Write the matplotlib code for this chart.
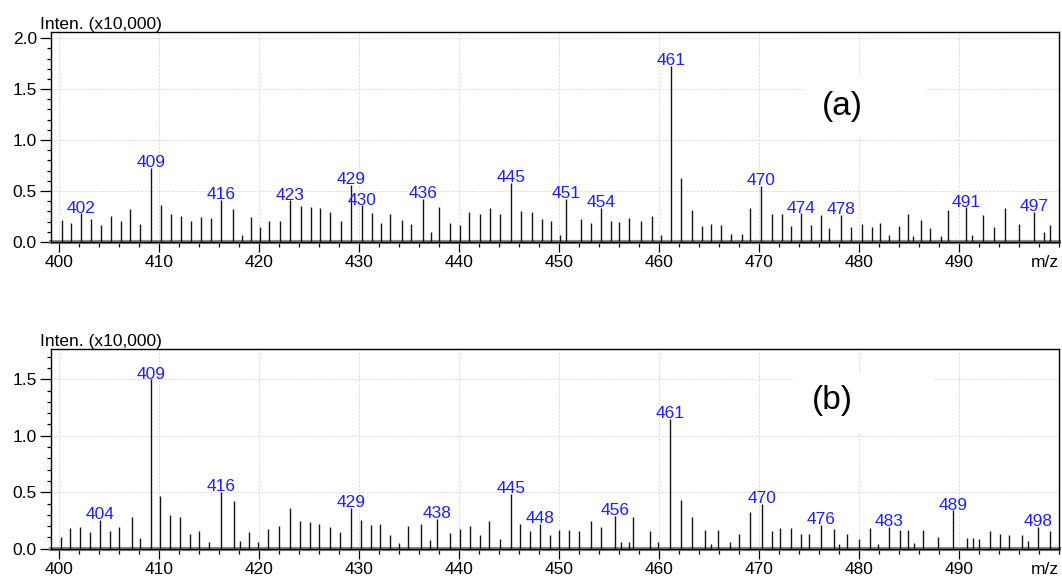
import matplotlib
matplotlib.use('Agg')
import matplotlib.pyplot as plt
from matplotlib.patches import Rectangle
from matplotlib.ticker import MultipleLocator
import numpy as np

plt.rcParams['font.family'] = ['Liberation Sans', 'DejaVu Sans']

# spectrum (a)
a_mz = [400.3, 401.2, 402.2, 403.2, 404.2, 405.2, 406.2, 407.1, 408.1, 409.2,
        410.2, 411.2, 412.2, 413.2, 414.2, 415.2, 416.2, 417.4, 418.3, 419.2,
        420.1, 421.0, 422.1, 423.1, 424.2, 425.2, 426.1, 427.1, 428.2, 429.2,
        430.3, 431.3, 432.2, 433.1, 434.3, 435.2, 436.4, 437.2, 438.0, 439.1,
        440.1, 441.0, 442.1, 443.1, 444.1, 445.2, 446.2, 447.3, 448.3, 449.2,
        450.1, 450.7, 452.2, 453.2, 454.2, 455.2, 456.0, 457.0, 458.2, 459.3,
        460.2, 461.2, 462.2, 463.3, 464.3, 465.2, 466.2, 467.2, 468.3, 469.1,
        470.2, 471.3, 472.3, 473.2, 474.2, 475.2, 476.2, 477.0, 478.2, 479.2,
        480.3, 481.3, 482.1, 483.0, 484.0, 484.9, 485.4, 486.2, 487.1, 488.2,
        488.9, 490.7, 491.3, 492.4, 493.5, 494.6, 496.0, 497.5, 498.5, 499.1]
a_int = [0.22, 0.19, 0.28, 0.225, 0.17, 0.255, 0.21, 0.32, 0.18, 0.73,
         0.36, 0.27, 0.255, 0.21, 0.245, 0.235, 0.415, 0.32, 0.07, 0.245,
         0.15, 0.21, 0.205, 0.41, 0.35, 0.34, 0.335, 0.295, 0.205, 0.56,
         0.36, 0.28, 0.19, 0.275, 0.215, 0.18, 0.42, 0.10, 0.34, 0.19,
         0.17, 0.295, 0.275, 0.335, 0.275, 0.58, 0.30, 0.295, 0.225, 0.205,
         0.07, 0.42, 0.23, 0.19, 0.335, 0.21, 0.195, 0.235, 0.205, 0.255,
         0.07, 1.73, 0.63, 0.315, 0.157, 0.175, 0.165, 0.08, 0.08, 0.335,
         0.55, 0.27, 0.27, 0.157, 0.28, 0.165, 0.265, 0.137, 0.265, 0.147,
         0.175, 0.147, 0.186, 0.07, 0.16, 0.27, 0.06, 0.215, 0.137, 0.06,
         0.31, 0.34, 0.07, 0.265, 0.147, 0.335, 0.175, 0.295, 0.10, 0.165]
a_labels = [402, 409, 416, 423, 429, 430, 436, 445, 451, 454, 461, 470, 474, 478, 491, 497]

# spectrum (b)
b_mz = [400.2, 401.1, 402.1, 403.1, 404.1, 405.1, 406.0, 407.3, 408.1, 409.2,
        410.1, 411.1, 412.1, 413.1, 414.0, 415.0, 416.2, 417.5, 418.1, 419.0,
        419.9, 420.9, 422.0, 423.1, 424.1, 425.1, 426.0, 427.1, 428.1, 429.2,
        430.2, 431.2, 432.1, 433.1, 434.0, 434.9, 436.2, 437.1, 437.8, 439.1,
        440.1, 441.1, 442.1, 443.0, 444.1, 445.2, 446.1, 447.1, 448.1, 449.1,
        450.0, 451.0, 452.0, 453.2, 454.2, 455.6, 456.2, 457.0, 457.4, 459.1,
        459.9, 461.1, 462.2, 463.3, 464.6, 465.2, 465.9, 467.1, 468.0, 469.1,
        470.3, 471.3, 472.1, 473.2, 474.2, 475.0, 476.2, 477.5, 478.0, 478.8,
        480.0, 481.1, 481.9, 483.0, 484.1, 484.9, 485.5, 486.4, 487.9, 489.4,
        490.8, 491.4, 492.0, 493.1, 494.1, 495.0, 496.3, 496.9, 497.9, 499.1]
b_int = [0.10, 0.18, 0.195, 0.148, 0.254, 0.16, 0.19, 0.28, 0.095, 1.50,
         0.47, 0.30, 0.277, 0.13, 0.157, 0.06, 0.505, 0.425, 0.07, 0.148,
         0.06, 0.177, 0.20, 0.36, 0.245, 0.234, 0.218, 0.19, 0.15, 0.36,
         0.257, 0.21, 0.215, 0.12, 0.05, 0.20, 0.215, 0.074, 0.263, 0.14,
         0.177, 0.20, 0.124, 0.248, 0.086, 0.487, 0.215, 0.16, 0.218, 0.12,
         0.168, 0.162, 0.16, 0.242, 0.195, 0.29, 0.062, 0.062, 0.277, 0.157,
         0.057, 1.148, 0.428, 0.277, 0.165, 0.04, 0.165, 0.057, 0.133, 0.328,
         0.40, 0.16, 0.183, 0.183, 0.127, 0.127, 0.21, 0.177, 0.04, 0.127,
         0.083, 0.183, 0.04, 0.195, 0.165, 0.168, 0.05, 0.165, 0.106, 0.34,
         0.097, 0.097, 0.086, 0.16, 0.133, 0.12, 0.12, 0.07, 0.195, 0.16]
b_labels = [404, 409, 416, 429, 438, 445, 448, 456, 461, 470, 476, 483, 489, 498]

BLUE = '#1f1fff'
FS = 12.5


def draw_panel(ax, mz, inten, labels, ymax, tag, box, tag_pos):
    mz = np.asarray(mz)
    inten = np.asarray(inten)
    ax.set_xlim(399.17, 500)
    ax.set_ylim(0, ymax)
    ax.grid(True, color='#dddddd', linestyle=(0, (2.5, 1.5)), linewidth=0.7)
    ax.set_axisbelow(True)
    # white box behind the panel tag
    ax.add_patch(Rectangle(box[:2], box[2], box[3], transform=ax.transAxes,
                           facecolor='white', edgecolor='none', zorder=1))
    ax.axhline(0, color='#8a8a8a', lw=3, clip_on=False, zorder=1.5)
    ax.vlines(mz, 0, inten, colors='#151515', lw=1.0, zorder=2)
    for lab in labels:
        near = np.abs(mz - lab) <= 0.5
        idx = np.where(near)[0][np.argmax(inten[near])]
        ax.annotate(str(lab), (mz[idx], inten[idx]), xytext=(0, 0.5),
                    textcoords='offset points', ha='center', va='baseline',
                    color=BLUE, fontsize=FS, zorder=3)
    ax.text(tag_pos[0], tag_pos[1], tag, transform=ax.transAxes, fontsize=24,
            ha='center', va='center', zorder=3)
    ax.set_xticks(np.arange(400, 500, 10))
    ax.xaxis.set_minor_locator(MultipleLocator(2))
    ax.yaxis.set_major_locator(MultipleLocator(0.5))
    ax.yaxis.set_minor_locator(MultipleLocator(0.1))
    ax.yaxis.set_major_formatter(matplotlib.ticker.FormatStrFormatter('%.1f'))
    ax.tick_params(axis='x', which='major', length=7.5, width=0.9, labelsize=FS, pad=2)
    ax.tick_params(axis='x', which='minor', length=3.6, width=0.9)
    ax.tick_params(axis='y', which='major', length=8, width=0.9, labelsize=FS, pad=2)
    ax.tick_params(axis='y', which='minor', length=3, width=0.9)
    for sp in ax.spines.values():
        sp.set_linewidth(1.0)
    ax.text(-0.011, 1.0, 'Inten. (x10,000)', transform=ax.transAxes,
            ha='left', va='bottom', fontsize=FS)
    ax.annotate('m/z', (0.986, 0), xycoords='axes fraction', xytext=(0, -9.6),
                textcoords='offset points', ha='center', va='top', fontsize=FS)


fig = plt.figure(figsize=(10.62, 5.82), dpi=100)
ax1 = fig.add_axes([50.7 / 1062, 1 - 242 / 582, (1059 - 50.7) / 1062, 210 / 582])
ax2 = fig.add_axes([50.7 / 1062, 1 - 548.7 / 582, (1059 - 50.7) / 1062, 199.4 / 582])

draw_panel(ax1, a_mz, a_int, a_labels, 2.06, '(a)',
           (0.747, 0.50, 0.122, 0.295), (0.785, 0.645))
draw_panel(ax2, b_mz, b_int, b_labels, 1.766, '(b)',
           (0.737, 0.58, 0.139, 0.305), (0.775, 0.745))

fig.savefig('out.png', dpi=100)
